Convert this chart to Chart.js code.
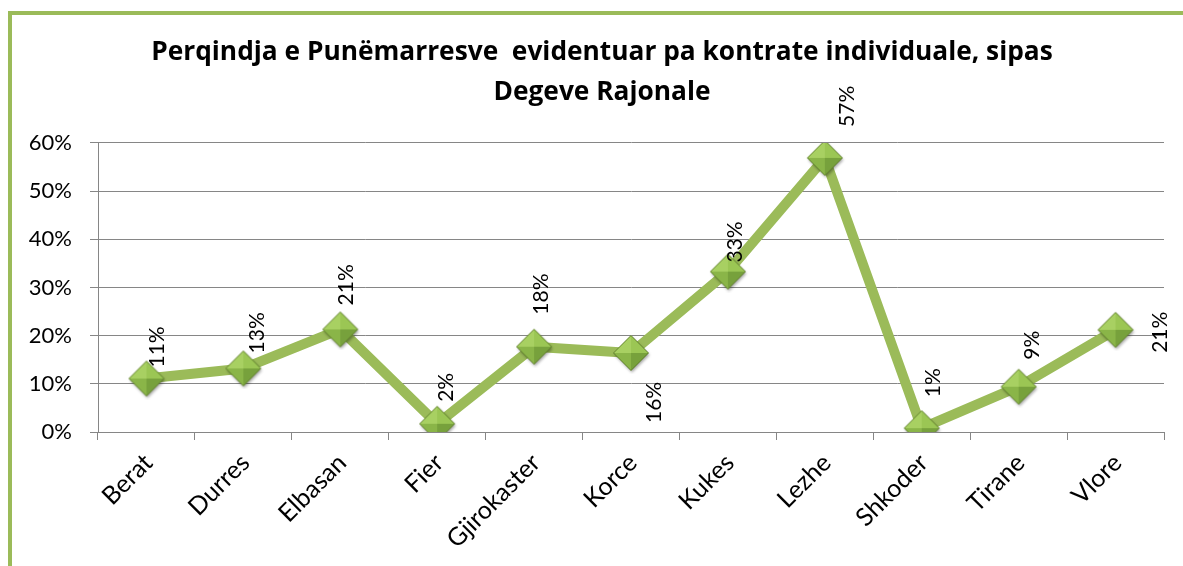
<!DOCTYPE html>
<html>
<head>
<meta charset="utf-8">
<script src="https://cdn.jsdelivr.net/npm/chart.js@4.4.1/dist/chart.umd.min.js"></script>
<style>
  html, body { margin: 0; padding: 0; background: #fff; overflow: hidden; width: 1183px; height: 566px; }
  #frame { position: absolute; left: 8px; top: 11px; width: 1300px; height: 700px; border: 4px solid #9bbb59; background: #fff; }
  #wrap { position: absolute; left: 0; top: 0; width: 1180px; height: 560px; }
</style>
</head>
<body>
<div id="frame"><div id="wrap"><canvas id="c"></canvas></div></div>
<script>
const categories = ['Berat', 'Durres', 'Elbasan', 'Fier', 'Gjirokaster', 'Korce', 'Kukes', 'Lezhe', 'Shkoder', 'Tirane', 'Vlore'];
const shares = [0.111, 0.132, 0.213, 0.017, 0.177, 0.164, 0.333, 0.569, 0.008, 0.094, 0.212];
const yTicks = [0, 0.1, 0.2, 0.3, 0.4, 0.5, 0.6];
const titleLines = ['Perqindja e Punëmarresve  evidentuar pa kontrate individuale, sipas', 'Degeve Rajonale'];

// label placement relative to each point (x centre of rotated text, y of its start)
const labelOffsets = [[11, -11], [14, -15], [6, -24], [9, -22], [7, -32], [23, 70], [7, -9], [22, -31], [12, -31], [14, -27], [45, 23]];

const GREEN = '#9bbb59';

function makeDiamond() {
  const s = 42, c = 21, r = 17.5;
  const cv = document.createElement('canvas');
  cv.width = s; cv.height = s;
  const g = cv.getContext('2d');
  const T = [c, c - r], R = [c + r, c], B = [c, c + r], L = [c - r, c], C = [c, c];
  function path(pts) { g.beginPath(); g.moveTo(pts[0][0], pts[0][1]); for (let i = 1; i < pts.length; i++) g.lineTo(pts[i][0], pts[i][1]); g.closePath(); }
  g.save();
  g.shadowColor = 'rgba(0,0,0,0.35)'; g.shadowBlur = 3; g.shadowOffsetX = 1; g.shadowOffsetY = 2;
  path([T, R, B, L]); g.fillStyle = '#7fa640'; g.fill();
  g.restore();
  path([T, L, C]); g.fillStyle = '#a8d062'; g.fill();
  path([T, R, C]); g.fillStyle = '#9bc654'; g.fill();
  path([L, B, C]); g.fillStyle = '#8ab548'; g.fill();
  path([R, B, C]); g.fillStyle = '#77a13c'; g.fill();
  path([T, R, B, L]); g.strokeStyle = 'rgba(85,115,38,0.75)'; g.lineWidth = 1; g.stroke();
  return cv;
}

const labelPlugin = {
  id: 'pointLabels',
  afterDatasetsDraw(chart) {
    const meta = chart.getDatasetMeta(0);
    const ctx = chart.ctx;
    ctx.save();
    ctx.font = '21px Lato';
    ctx.fillStyle = '#000';
    ctx.textAlign = 'left';
    ctx.textBaseline = 'middle';
    meta.data.forEach((pt, i) => {
      const off = labelOffsets[i];
      ctx.save();
      ctx.translate(pt.x + off[0], pt.y + off[1]);
      ctx.rotate(-Math.PI / 2);
      ctx.fillText(Math.round(shares[i] * 100) + '%', 0, 0);
      ctx.restore();
    });
    ctx.restore();
  }
};

new Chart(document.getElementById('c'), {
  type: 'line',
  data: {
    labels: categories,
    datasets: [{
      data: shares,
      borderColor: GREEN,
      borderWidth: 10,
      tension: 0,
      borderJoinStyle: 'round',
      pointStyle: makeDiamond(),
      pointRadius: 18,
      pointHoverRadius: 18,
      backgroundColor: GREEN
    }]
  },
  options: {
    responsive: true,
    maintainAspectRatio: false,
    animation: false,
    events: [],
    layout: { padding: 0 },
    plugins: {
      legend: { display: false },
      tooltip: { enabled: false },
      title: {
        display: true,
        text: titleLines,
        color: '#000',
        font: { family: 'Open Sans', size: 26.3, weight: 'bold', lineHeight: 1.52 },
        padding: { top: 18, bottom: 30 }
      }
    },
    scales: {
      x: {
        type: 'category',
        offset: true,
        grid: { display: true, offset: true, drawOnChartArea: false, drawTicks: true, tickLength: 8, color: '#868686', lineWidth: 1 },
        border: { display: true, color: '#868686', width: 1 },
        ticks: { color: '#000', font: { family: 'Lato', size: 25 }, minRotation: 45, maxRotation: 45, padding: 8, labelOffset: 2, autoSkip: false },
        afterFit(scale) { scale.height = 143; }
      },
      y: {
        min: 0, max: 0.6,
        afterBuildTicks(scale) { scale.ticks = yTicks.map(v => ({ value: v })); },
        grid: { color: '#868686', lineWidth: 1, tickLength: 8, drawTicks: true },
        border: { display: true, color: '#868686', width: 1 },
        ticks: { color: '#000', font: { family: 'Lato', size: 22 }, padding: 18, callback: v => Math.round(v * 100) + '%' },
        afterFit(scale) { scale.width = 86; }
      },
      yr: {
        position: 'right',
        display: true,
        grid: { display: false, drawTicks: false },
        border: { display: false },
        ticks: { display: false },
        afterFit(scale) { scale.width = 26; }
      }
    }
  },
  plugins: [labelPlugin]
});
</script>
</body>
</html>
